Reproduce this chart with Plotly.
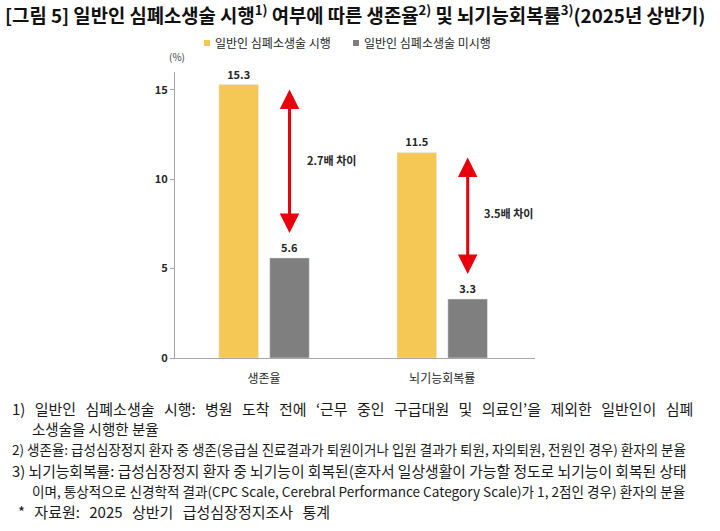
import plotly.graph_objects as go

categories = ["생존율", "뇌기능회복률"]
series_names = ["일반인 심폐소생술 시행", "일반인 심폐소생술 미시행"]
performed = [15.3, 11.5]
not_performed = [5.6, 3.3]
ratio_labels = ["2.7배 차이", "3.5배 차이"]
arrow_top = [15.1, 11.3]
arrow_bottom = [7.0, 4.7]
y_ticks = [0, 5, 10, 15]

title_text = ("[그림 5] 일반인 심폐소생술 시행<sup>1)</sup> 여부에 따른 생존율<sup>2)</sup> "
              "및 뇌기능회복률<sup>3)</sup>(2025년 상반기)")
WIDE = " \u2009\u2009"
footnotes = [
    ("1) 일반인 심폐소생술 시행: 병원 도착 전에 ‘근무 중인 구급대원 및 의료인’을 제외한 일반인이 심폐", 10, 408, 15, True),
    ("소생술을 시행한 분율", 30, 428, 14.5, False),
    ("2) 생존율: 급성심장정지 환자 중 생존(응급실 진료결과가 퇴원이거나 입원 결과가 퇴원, 자의퇴원, 전원인 경우) 환자의 분율", 10, 449, 13.5, False),
    ("3) 뇌기능회복률: 급성심장정지 환자 중 뇌기능이 회복된(혼자서 일상생활이 가능할 정도로 뇌기능이 회복된 상태", 10, 470, 14.8, False),
    ("이며, 통상적으로 신경학적 결과(CPC Scale, Cerebral Performance Category Scale)가 1, 2점인 경우) 환자의 분율", 30, 491, 13.6, False),
    ("* 자료원: 2025 상반기 급성심장정지조사 통계", 16, 512, 15, True),
]

YELLOW = "#F5C856"
GREY = "#7F7F7F"
RED = "#E8000B"
FONT = "Noto Sans CJK KR"

W, H = 720, 531
L, R, T, B = 175, 185, 72, 173
plot_top, plot_bottom = T, H - B


def py(p):
    return (plot_bottom - p) / (plot_bottom - plot_top)


def px(p):
    return (p - L) / (W - L - R)


fig = go.Figure()
fig.add_trace(go.Bar(x=categories, y=performed, name=series_names[0], marker_color=YELLOW,
                     text=[f"{v:.1f}" for v in performed], textposition="outside",
                     textfont=dict(size=11, color="#262626", family=FONT, weight="bold"),
                     cliponaxis=False))
fig.add_trace(go.Bar(x=categories, y=not_performed, name=series_names[1], marker_color=GREY,
                     text=[f"{v:.1f}" for v in not_performed], textposition="outside",
                     textfont=dict(size=11, color="#262626", family=FONT, weight="bold"),
                     cliponaxis=False))

annotations = []
shapes = []
offset = 0.1429
for i in range(len(categories)):
    annotations.append(dict(x=i + offset, y=arrow_bottom[i], ax=i + offset, ay=arrow_top[i],
                            xref="x", yref="y", axref="x", ayref="y", text="",
                            showarrow=True, arrowhead=2, startarrowhead=2, arrowside="end+start",
                            arrowsize=1.3, startarrowsize=1.3, arrowwidth=3, arrowcolor=RED))
annotations.append(dict(x=0.378, y=11.1, xref="x", yref="y", text=ratio_labels[0], showarrow=False,
                        font=dict(size=11, color="#262626", family=FONT, weight="bold")))
annotations.append(dict(x=1.372, y=8.1, xref="x", yref="y", text=ratio_labels[1], showarrow=False,
                        font=dict(size=11, color="#262626", family=FONT, weight="bold")))

# title
annotations.append(dict(x=px(3), y=py(14), xref="paper", yref="paper", xanchor="left", yanchor="middle",
                        text=title_text, showarrow=False,
                        font=dict(size=18.8, color="#111111", family=FONT, weight="bold")))
# legend
leg = [(series_names[0], YELLOW, 207), (series_names[1], GREY, 356)]
for name, col, x0 in leg:
    shapes.append(dict(type="rect", xref="paper", yref="paper", x0=px(x0 - 3), x1=px(x0 + 3),
                       y0=py(46), y1=py(40), fillcolor=col, line=dict(width=0)))
    annotations.append(dict(x=px(x0 + 6), y=py(43), xref="paper", yref="paper", xanchor="left",
                            yanchor="middle", text=name, showarrow=False,
                            font=dict(size=12, color="#262626", family=FONT)))
# unit
annotations.append(dict(x=px(177), y=py(57), xref="paper", yref="paper", xanchor="center",
                        yanchor="middle", text="(%)", showarrow=False,
                        font=dict(size=10, color="#404040", family=FONT)))
# footnotes
for text, x0, y0, fs, wide in footnotes:
    if wide:
        text = text.replace(" ", WIDE)
    annotations.append(dict(x=px(x0), y=py(y0), xref="paper", yref="paper", xanchor="left",
                            yanchor="middle", text=text, showarrow=False,
                            font=dict(size=fs, color="#1a1a1a", family=FONT)))

fig.update_layout(
    width=W, height=H, margin=dict(l=L, r=R, t=T, b=B, autoexpand=False),
    paper_bgcolor="white", plot_bgcolor="white",
    barmode="group", bargap=0.429, bargroupgap=0.222,
    showlegend=False, annotations=annotations, shapes=shapes,
    font=dict(family=FONT, color="#262626"),
)
fig.update_xaxes(showline=True, linecolor="#A6A6A6", linewidth=1, ticks="", showgrid=False,
                 ticklabelstandoff=10,
                 tickfont=dict(size=12, color="#262626", family=FONT))
fig.update_yaxes(range=[0, 16], tickvals=y_ticks, showline=True, linecolor="#A6A6A6", linewidth=1,
                 ticks="outside", ticklen=4, tickcolor="#A6A6A6", showgrid=False, zeroline=False,
                 tickfont=dict(size=11, color="#262626", family=FONT, weight="bold"))

fig.write_html("out.html")
